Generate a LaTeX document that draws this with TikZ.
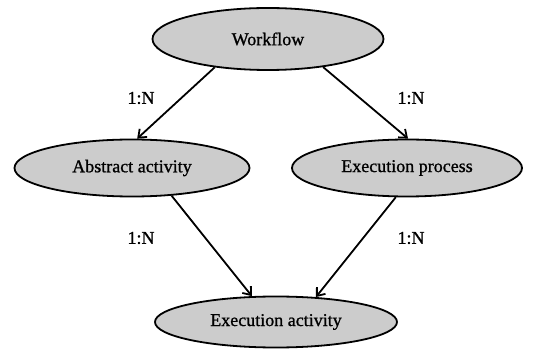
\documentclass[tikz,border=0pt]{standalone}
\usepackage{fontspec}
\setmainfont{Liberation Serif}
\newfontfamily\heavyfont{Liberation Serif}[FakeBold=1.0]
\usetikzlibrary{shapes.geometric,arrows.meta}
\definecolor{nodegray}{RGB}{204,204,204}
\tikzset{
  ent/.style={ellipse, draw=black, line width=1.8pt, fill=nodegray, inner sep=0pt,
    font=\heavyfont\fontsize{18}{20}\selectfont},
  rel/.style={draw=black, line width=1.8pt, -{Straight Barb[length=7pt,width=11pt,line width=1.8pt]}},
  card/.style={font=\heavyfont\fontsize{18}{20}\selectfont, inner sep=0pt}
}
\begin{document}
\begin{tikzpicture}[x=1pt,y=-1pt]
\useasboundingbox (0,0) rectangle (536,358);
\node[ent, minimum width=231pt, minimum height=62pt] (wf) at (268,39) {Workflow};
\node[ent, minimum width=235pt, minimum height=57pt] (aa) at (132,168) {Abstract activity};
\node[ent, minimum width=230pt, minimum height=57pt] (ep) at (407,168) {Execution process};
\node[ent, minimum width=242pt, minimum height=51pt] (ea) at (276,322) {Execution activity};
\draw[rel] (wf.208) -- (aa.80);
\draw[rel] (wf.333) -- (ep.88);
\draw[rel] (aa.325) -- (ea.133);
\draw[rel] (ep.249) -- (ea.32);
\node[card] (l1) at (141,98) {1:N};
\node[card] (l2) at (411,98) {1:N};
\node[card] (l3) at (141,238) {1:N};
\node[card] (l4) at (411,238) {1:N};
\end{tikzpicture}
\end{document}
